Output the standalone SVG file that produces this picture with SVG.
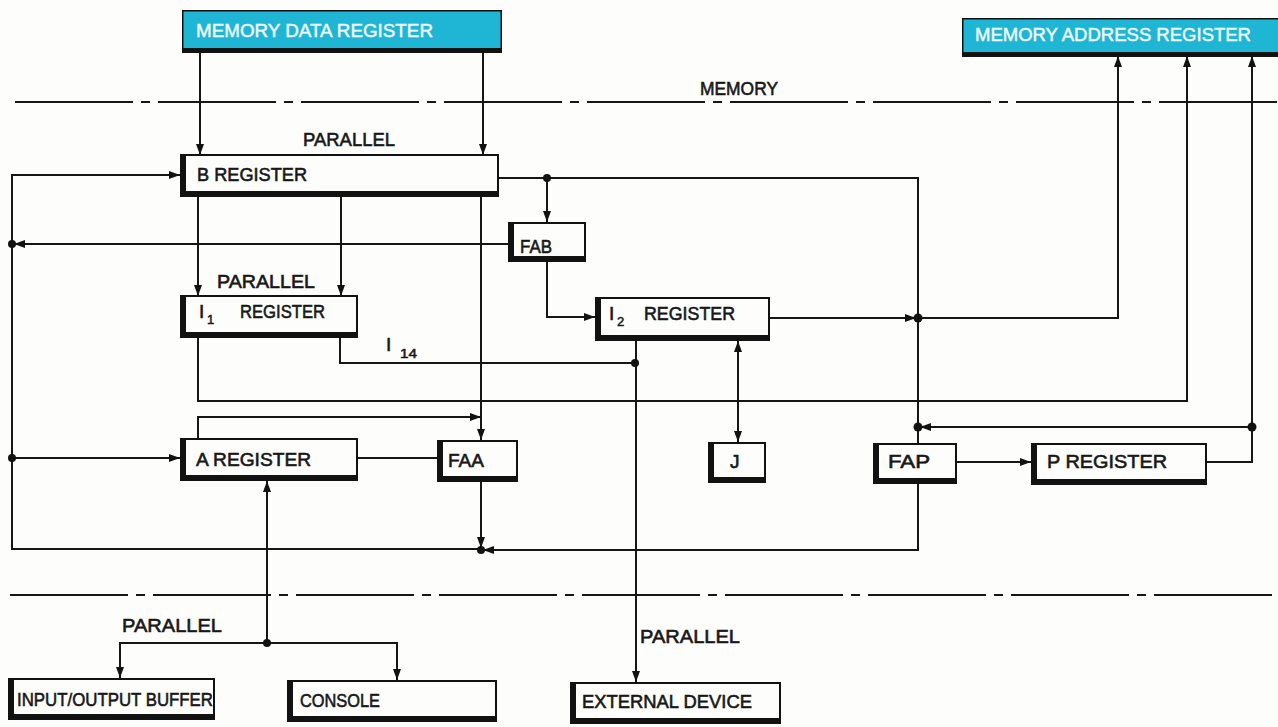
<svg xmlns="http://www.w3.org/2000/svg" width="1278" height="727" viewBox="0 0 1278 727">
<style>
.bg{fill:#fdfdfb}
.ln{fill:none;stroke:#161616;stroke-width:2}
.dash{fill:none;stroke:#161616;stroke-width:2.2;stroke-dasharray:118 8 9 8}
.sh{fill:#121212}
.wb{fill:#fdfdfb}
.cy{fill:#1fb6d6}
.t{font-family:"Liberation Sans",Arial,sans-serif;font-size:19px;fill:#181818;stroke:#181818;stroke-width:0.6}
.tc{font-family:"Liberation Sans",Arial,sans-serif;font-size:19px;fill:#eef8fa;stroke:#eef8fa;stroke-width:0.5}
.sub{font-family:"Liberation Sans",Arial,sans-serif;font-size:13px;fill:#181818;stroke:#181818;stroke-width:0.5}
.dot{fill:#121212}
</style>
<defs>
<marker id="ah" markerUnits="userSpaceOnUse" markerWidth="11" markerHeight="8" refX="11" refY="4" orient="auto">
<path d="M0,0 L11,4 L0,8 z" fill="#121212"/>
</marker>
<marker id="as" markerUnits="userSpaceOnUse" markerWidth="11" markerHeight="8" refX="0" refY="4" orient="auto">
<path d="M11,0 L0,4 L11,8 z" fill="#121212"/>
</marker>
</defs>
<rect class="bg" x="0" y="0" width="1278" height="727"/>

<g id="separators">
<line class="dash" x1="15" y1="102" x2="1278" y2="102"/>
<line class="dash" x1="10" y1="595" x2="1278" y2="595"/>
<text class="t" x="700" y="95" textLength="78" lengthAdjust="spacingAndGlyphs">MEMORY</text>
</g>

<g id="connectors">
<line class="ln" x1="200" y1="53" x2="200" y2="155" marker-end="url(#ah)"/>
<line class="ln" x1="483" y1="53" x2="483" y2="155" marker-end="url(#ah)"/>
<path class="ln" d="M481,549 H12 V175 H180" marker-end="url(#ah)"/>
<line class="ln" x1="508" y1="244" x2="14" y2="244" marker-end="url(#ah)"/>
<line class="ln" x1="12" y1="458" x2="180" y2="458" marker-end="url(#ah)"/>
<line class="ln" x1="198" y1="197" x2="198" y2="296" marker-end="url(#ah)"/>
<line class="ln" x1="341" y1="197" x2="341" y2="296" marker-end="url(#ah)"/>
<line class="ln" x1="481" y1="197" x2="481" y2="440" marker-end="url(#ah)"/>
<path class="ln" d="M499,178 H918 V443"/>
<line class="ln" x1="547" y1="178" x2="547" y2="222" marker-end="url(#ah)"/>
<path class="ln" d="M547,262 V317 H595" marker-end="url(#ah)"/>
<line class="ln" x1="770" y1="318" x2="916" y2="318" marker-end="url(#ah)"/>
<path class="ln" d="M918,318 H1118 V56" marker-end="url(#ah)"/>
<path class="ln" d="M198,338 V401 H1187 V56" marker-end="url(#ah)"/>
<path class="ln" d="M340,338 V363 H635"/>
<line class="ln" x1="636" y1="341" x2="636" y2="682" marker-end="url(#ah)"/>
<line class="ln" x1="738" y1="341" x2="738" y2="442" marker-start="url(#as)" marker-end="url(#ah)"/>
<path class="ln" d="M1207,462 H1252 V56" marker-end="url(#ah)"/>
<line class="ln" x1="1252" y1="427" x2="920" y2="427" marker-end="url(#ah)"/>
<line class="ln" x1="957" y1="462" x2="1031" y2="462" marker-end="url(#ah)"/>
<path class="ln" d="M918,484 V550 H483" marker-end="url(#ah)"/>
<line class="ln" x1="481" y1="482" x2="481" y2="548" marker-end="url(#ah)"/>
<path class="ln" d="M198,438 V417 H481" marker-end="url(#ah)"/>
<line class="ln" x1="358" y1="458" x2="437" y2="458"/>
<line class="ln" x1="267" y1="643" x2="267" y2="481" marker-end="url(#ah)"/>
<path class="ln" d="M267,643 H120 V678" marker-end="url(#ah)"/>
<path class="ln" d="M267,643 H397 V680" marker-end="url(#ah)"/>
<circle class="dot" cx="12" cy="244" r="4"/>
<circle class="dot" cx="12" cy="458" r="4"/>
<circle class="dot" cx="547" cy="178" r="4"/>
<circle class="dot" cx="918" cy="318" r="4.5"/>
<circle class="dot" cx="918" cy="427" r="4.5"/>
<circle class="dot" cx="1252" cy="427" r="4.5"/>
<circle class="dot" cx="635" cy="363" r="4"/>
<circle class="dot" cx="481" cy="550" r="4"/>
<circle class="dot" cx="267" cy="643" r="4"/>
<text class="t" x="303" y="146" textLength="92" lengthAdjust="spacingAndGlyphs">PARALLEL</text>
<text class="t" x="217" y="288" textLength="98" lengthAdjust="spacingAndGlyphs">PARALLEL</text>
<text class="t" x="386" y="351">I</text>
<text class="sub" x="400" y="358" textLength="17" lengthAdjust="spacingAndGlyphs">14</text>
<text class="t" x="122" y="632" textLength="100" lengthAdjust="spacingAndGlyphs">PARALLEL</text>
<text class="t" x="640" y="643" textLength="100" lengthAdjust="spacingAndGlyphs">PARALLEL</text>
</g>

<g id="mdr">
<rect class="sh" x="182" y="10" width="320" height="43"/>
<rect class="cy" x="183.5" y="11.5" width="317" height="36.5"/>
<text class="tc" x="196" y="37" textLength="237" lengthAdjust="spacingAndGlyphs">MEMORY DATA REGISTER</text>
</g>
<g id="mar">
<rect class="sh" x="962" y="18" width="318" height="39"/>
<rect class="cy" x="963.5" y="19.5" width="316" height="32.5"/>
<text class="tc" x="975" y="41" textLength="276" lengthAdjust="spacingAndGlyphs">MEMORY ADDRESS REGISTER</text>
</g>

<g id="b-register">
<rect class="sh" x="180" y="154" width="319" height="43"/>
<rect class="wb" x="186" y="156" width="311" height="35"/>
<text class="t" x="197" y="181" textLength="110" lengthAdjust="spacingAndGlyphs">B REGISTER</text>
</g>
<g id="fab">
<rect class="sh" x="508" y="222" width="78" height="40"/>
<rect class="wb" x="514" y="224" width="70" height="32"/>
<text class="t" x="520" y="253" textLength="32" lengthAdjust="spacingAndGlyphs">FAB</text>
</g>
<g id="i1-register">
<rect class="sh" x="180" y="295" width="178" height="43"/>
<rect class="wb" x="186" y="297" width="170" height="35"/>
<text class="t" x="199" y="318">I</text>
<text class="sub" x="207" y="324">1</text>
<text class="t" x="240" y="318" textLength="85" lengthAdjust="spacingAndGlyphs">REGISTER</text>
</g>
<g id="i2-register">
<rect class="sh" x="595" y="297" width="175" height="44"/>
<rect class="wb" x="601" y="299" width="167" height="36"/>
<text class="t" x="609" y="320">I</text>
<text class="sub" x="617" y="326">2</text>
<text class="t" x="644" y="320" textLength="91" lengthAdjust="spacingAndGlyphs">REGISTER</text>
</g>
<g id="a-register">
<rect class="sh" x="180" y="438" width="178" height="43"/>
<rect class="wb" x="186" y="440" width="170" height="35"/>
<text class="t" x="196" y="466" textLength="115" lengthAdjust="spacingAndGlyphs">A REGISTER</text>
</g>
<g id="faa">
<rect class="sh" x="437" y="440" width="81" height="42"/>
<rect class="wb" x="443" y="442" width="73" height="34"/>
<text class="t" x="448" y="467" textLength="36" lengthAdjust="spacingAndGlyphs">FAA</text>
</g>
<g id="j">
<rect class="sh" x="708" y="442" width="58" height="41"/>
<rect class="wb" x="714" y="444" width="50" height="33"/>
<text class="t" x="730" y="468">J</text>
</g>
<g id="fap">
<rect class="sh" x="873" y="443" width="84" height="41"/>
<rect class="wb" x="879" y="445" width="76" height="33"/>
<text class="t" x="888" y="468" textLength="42" lengthAdjust="spacingAndGlyphs">FAP</text>
</g>
<g id="p-register">
<rect class="sh" x="1031" y="443" width="176" height="42"/>
<rect class="wb" x="1037" y="445" width="168" height="34"/>
<text class="t" x="1047" y="468" textLength="120" lengthAdjust="spacingAndGlyphs">P REGISTER</text>
</g>
<g id="io-buffer">
<rect class="sh" x="8" y="678" width="207" height="42"/>
<rect class="wb" x="14" y="680" width="199" height="34"/>
<text class="t" x="17" y="706" textLength="196" lengthAdjust="spacingAndGlyphs">INPUT/OUTPUT BUFFER</text>
</g>
<g id="console">
<rect class="sh" x="287" y="680" width="210" height="42"/>
<rect class="wb" x="293" y="682" width="202" height="34"/>
<text class="t" x="300" y="707" textLength="80" lengthAdjust="spacingAndGlyphs">CONSOLE</text>
</g>
<g id="external-device">
<rect class="sh" x="570" y="682" width="211" height="42"/>
<rect class="wb" x="576" y="684" width="203" height="34"/>
<text class="t" x="582" y="708" textLength="170" lengthAdjust="spacingAndGlyphs">EXTERNAL DEVICE</text>
</g>
</svg>
